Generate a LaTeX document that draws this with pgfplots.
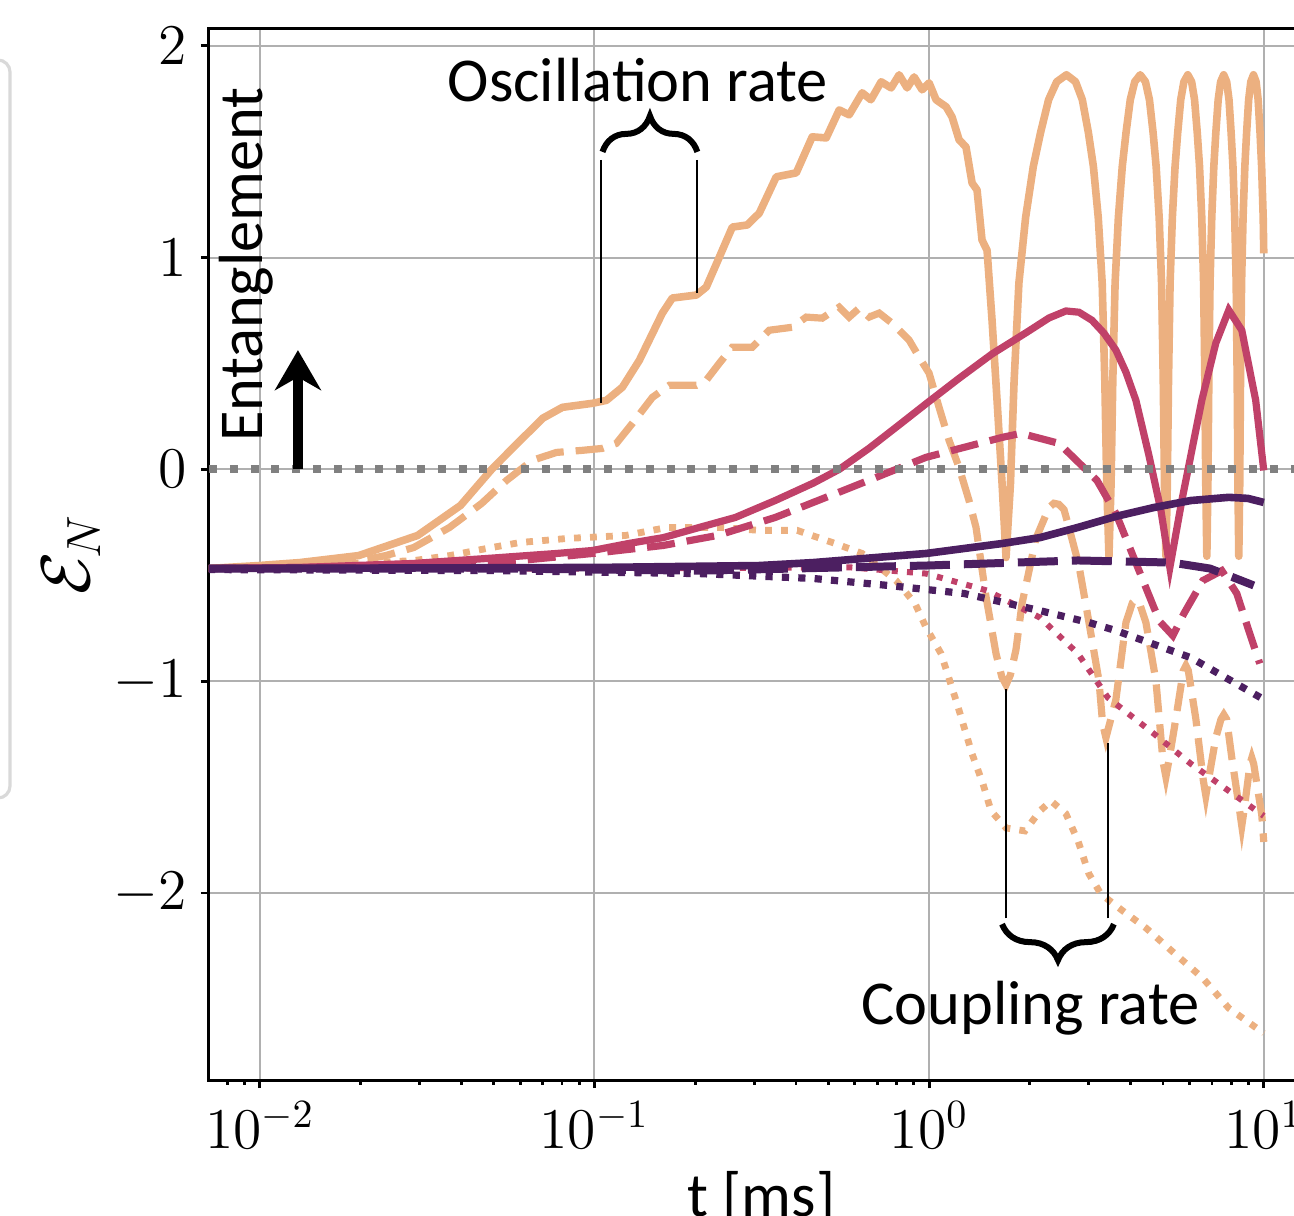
\documentclass[border=0pt]{standalone}
\usepackage{fontspec}
\newfontfamily\carlito{Carlito}
\usepackage{pgfplots}
\pgfplotsset{compat=1.18}
\usetikzlibrary{decorations.pathreplacing,arrows.meta}

\definecolor{corange}{RGB}{236,176,128}
\definecolor{cmag}{RGB}{192,65,105}
\definecolor{cpurp}{RGB}{76,31,97}
\definecolor{czero}{RGB}{128,128,128}
\definecolor{cgrid}{RGB}{176,176,176}

\begin{document}
\begin{tikzpicture}
\begin{axis}[
  scale only axis, width=276.25pt, height=262.9pt,
  xmode=log, xmin=0.00705, xmax=14.13, ymin=-2.883, ymax=2.082,
  ytick={-2,-1,0,1,2},
  tick pos=left, tick align=outside,
  major tick length=2pt, minor tick length=1.2pt,
  tick style={black, line width=0.7pt},
  axis line style={line width=0.75pt},
  grid=major, major grid style={color=cgrid, line width=0.5pt},
  tick label style={font=\fontsize{14.5}{17}\selectfont},
  xlabel={t [ms]},
  xlabel style={font=\carlito\fontsize{15.6}{18}\selectfont, at={(axis description cs:0.5,-0.1293)}, anchor=base},
  ylabel={$\mathcal{E}_N$},
  ylabel style={font=\fontsize{17}{20}\selectfont, at={(axis description cs:-0.1077,0.5)}, anchor=base},
]
% orange
\addplot[corange, line width=1.9pt, line join=round] coordinates {
(0.00700,-0.468)(0.00993,-0.454)(0.01316,-0.440)(0.01975,-0.407)(0.02962,-0.312)(0.03981,-0.170)(0.04960,0.005)(0.06012,0.137)(0.06997,0.241)(0.08023,0.293)(0.09863,0.312)(0.1086,0.326)(0.1212,0.388)(0.1362,0.515)(0.1596,0.738)(0.1709,0.809)(0.2016,0.823)(0.2159,0.861)(0.2361,1.002)(0.2582,1.144)(0.2862,1.154)(0.3109,1.210)(0.3493,1.381)(0.4009,1.400)(0.4474,1.570)(0.4927,1.565)(0.5387,1.697)(0.5770,1.674)(0.6310,1.778)(0.6700,1.745)(0.7191,1.830)(0.7703,1.801)(0.8137,1.863)(0.8597,1.801)(0.9020,1.853)(0.9530,1.792)(1.000,1.825)(1.049,1.745)(1.124,1.712)(1.171,1.664)(1.229,1.556)(1.289,1.522)(1.344,1.352)(1.391,1.319)(1.439,1.083)(1.490,1.035)(1.542,0.704)(1.596,0.326)(1.652,-0.066)(1.698,-0.416)
(1.750,-0.07)(1.794,0.41)(1.855,0.88)(1.943,1.19)(2.048,1.43)(2.153,1.59)(2.275,1.745)(2.406,1.83)(2.573,1.863)(2.739,1.83)(2.870,1.745)(2.992,1.59)(3.097,1.43)(3.202,1.19)(3.290,0.88)(3.351,0.41)(3.395,-0.07)(3.447,-0.41)
(3.497,-0.07)(3.538,0.41)(3.596,0.88)(3.678,1.19)(3.778,1.43)(3.877,1.59)(3.992,1.745)(4.116,1.83)(4.274,1.863)(4.431,1.83)(4.554,1.745)(4.670,1.59)(4.769,1.43)(4.869,1.19)(4.951,0.88)(5.009,0.41)(5.050,-0.07)(5.100,-0.41)
(5.150,-0.07)(5.191,0.41)(5.249,0.88)(5.332,1.19)(5.432,1.43)(5.532,1.59)(5.648,1.745)(5.772,1.83)(5.930,1.863)(6.088,1.83)(6.212,1.745)(6.328,1.59)(6.428,1.43)(6.528,1.19)(6.611,0.88)(6.669,0.41)(6.710,-0.07)(6.760,-0.41)
(6.810,-0.07)(6.851,0.41)(6.910,0.88)(6.993,1.19)(7.092,1.43)(7.192,1.59)(7.308,1.745)(7.433,1.83)(7.591,1.863)(7.749,1.83)(7.874,1.745)(7.990,1.59)(8.090,1.43)(8.189,1.19)(8.272,0.88)(8.331,0.41)(8.372,-0.07)(8.422,-0.41)
(8.476,-0.07)(8.520,0.41)(8.583,0.88)(8.673,1.19)(8.780,1.43)(8.887,1.59)(9.013,1.745)(9.147,1.83)(9.317,1.863)(9.487,1.83)(9.621,1.745)(9.747,1.59)(9.854,1.43)(9.961,1.19)(10.0,1.02)
};
\addplot[corange, line width=1.8pt, dash pattern=on 7pt off 3pt] coordinates {
(0.00700,-0.468)(0.01316,-0.454)(0.0200,-0.430)(0.02377,-0.407)(0.02883,-0.369)(0.03691,-0.274)(0.04600,-0.161)(0.05461,-0.052)(0.06531,0.043)(0.07701,0.080)(0.09209,0.090)(0.1056,0.099)(0.1163,0.123)(0.1298,0.217)(0.1490,0.340)(0.1674,0.397)(0.2016,0.397)(0.2159,0.421)(0.2361,0.501)(0.2582,0.577)(0.2962,0.577)(0.3330,0.657)(0.3899,0.671)(0.4294,0.719)(0.4793,0.714)(0.5387,0.766)(0.5770,0.719)(0.6180,0.761)(0.6622,0.719)(0.7092,0.738)(0.7755,0.690)(0.8137,0.657)(0.8716,0.610)(0.9336,0.530)(1.000,0.454)(1.071,0.293)(1.147,0.137)(1.229,0.009)(1.316,-0.147)(1.381,-0.274)(1.479,-0.600)(1.585,-0.870)(1.650,-0.98)(1.698,-1.017)(1.750,-0.97)(1.818,-0.851)(1.895,-0.634)(2.086,-0.326)(2.282,-0.180)(2.360,-0.160)(2.443,-0.165)(2.530,-0.190)(2.617,-0.274)(2.804,-0.454)(3.004,-0.723)(3.218,-0.998)(3.300,-1.20)(3.376,-1.267)(3.450,-1.21)(3.616,-1.087)(3.874,-0.723)(4.050,-0.630)(4.149,-0.615)(4.250,-0.630)(4.445,-0.723)(4.762,-0.998)(5.000,-1.38)(5.100,-1.452)(5.200,-1.38)(5.462,-1.177)(5.750,-0.950)(5.851,-0.927)(5.950,-0.950)(6.266,-1.177)(6.600,-1.47)(6.713,-1.541)(6.830,-1.47)(7.190,-1.267)(7.450,-1.18)(7.597,-1.158)(7.750,-1.18)(8.027,-1.362)(8.450,-1.60)(8.597,-1.683)(8.750,-1.60)(9.100,-1.39)(9.210,-1.362)(9.330,-1.39)(9.863,-1.631)(10.0,-1.759)
};
\addplot[corange, line width=1.7pt, dash pattern=on 1.7pt off 2.3pt] coordinates {
(0.00700,-0.468)(0.01316,-0.459)(0.02904,-0.430)(0.03691,-0.407)(0.04926,-0.369)(0.06012,-0.345)(0.08308,-0.326)(0.1238,-0.312)(0.1652,-0.274)(0.2377,-0.274)(0.3109,-0.288)(0.4036,-0.288)(0.5241,-0.350)(0.6310,-0.397)(0.7970,-0.525)(0.9083,-0.634)(0.9796,-0.747)(1.086,-0.870)(1.212,-1.106)(1.344,-1.343)(1.449,-1.485)(1.531,-1.612)(1.698,-1.693)(1.934,-1.707)(2.145,-1.612)(2.313,-1.565)(2.564,-1.626)(2.785,-1.754)(3.004,-1.910)(3.262,-2.005)(3.795,-2.085)(4.445,-2.165)(5.313,-2.274)(6.576,-2.402)(7.863,-2.544)(10.0,-2.662)
};
% magenta
\addplot[cmag, line width=1.8pt] coordinates {
(0.00700,-0.468)(0.01316,-0.463)(0.02883,-0.444)(0.04727,-0.421)(0.07701,-0.397)(0.09863,-0.383)(0.1263,-0.350)(0.1607,-0.322)(0.2058,-0.274)(0.2636,-0.227)(0.3469,-0.147)(0.4505,-0.065)(0.5387,0.000)(0.6622,0.100)(0.8137,0.210)(0.9796,0.310)(1.229,0.430)(1.542,0.545)(1.948,0.645)(2.282,0.715)(2.564,0.748)(2.804,0.742)(3.067,0.704)(3.331,0.643)(3.616,0.563)(3.874,0.459)(4.149,0.326)(4.538,0.066)(4.928,-0.194)(5.241,-0.463)(5.692,-0.147)(6.530,0.326)(7.190,0.596)(7.863,0.752)(8.597,0.657)(9.460,0.326)(10.0,-0.005)
};
\addplot[cmag, line width=1.8pt, dash pattern=on 7pt off 3pt] coordinates {
(0.00700,-0.468)(0.01316,-0.463)(0.03691,-0.454)(0.06012,-0.430)(0.09863,-0.397)(0.1607,-0.359)(0.2329,-0.312)(0.3469,-0.227)(0.5851,-0.085)(0.9796,0.057)(1.652,0.151)(1.882,0.170)(2.443,0.123)(3.174,-0.052)(3.616,-0.208)(4.121,-0.430)(4.696,-0.652)(4.900,-0.720)(5.350,-0.785)(5.771,-0.681)(6.576,-0.525)(7.492,-0.478)(8.307,-0.586)(8.960,-0.747)(9.729,-0.917)
};
\addplot[cmag, line width=1.5pt, dash pattern=on 1.5pt off 2.3pt] coordinates {
(0.00700,-0.468)(0.1035,-0.468)(0.5851,-0.463)(0.9796,-0.492)(1.490,-0.572)(2.145,-0.700)(2.785,-0.870)(3.423,-1.078)(4.696,-1.248)(6.056,-1.390)(7.863,-1.518)(10.0,-1.636)
};
% purple
\addplot[cpurp, line width=1.9pt] coordinates {
(0.00700,-0.468)(0.1035,-0.463)(0.3109,-0.454)(0.4505,-0.440)(0.9796,-0.397)(1.652,-0.350)(2.145,-0.322)(2.785,-0.274)(3.616,-0.222)(4.696,-0.180)(6.056,-0.147)(7.863,-0.132)(8.960,-0.137)(10.0,-0.156)
};
\addplot[cpurp, line width=2pt, dash pattern=on 10pt off 3.5pt] coordinates {
(0.00700,-0.468)(0.0520,-0.468)(0.2058,-0.478)(0.9796,-0.454)(2.785,-0.430)(5.313,-0.440)(6.900,-0.468)(8.137,-0.511)(9.335,-0.548)
};
\addplot[cpurp, line width=1.8pt, dash pattern=on 1.8pt off 2.3pt] coordinates {
(0.00700,-0.473)(0.0520,-0.478)(0.2058,-0.492)(0.4505,-0.515)(0.7545,-0.548)(1.272,-0.586)(2.145,-0.667)(3.004,-0.723)(3.616,-0.761)(6.056,-0.889)(9.795,-1.078)
};
% zero line
\addplot[czero, line width=2pt, dash pattern=on 2pt off 3.2pt] coordinates {(0.00705,0) (14.13,0)};

% annotations
\draw[line width=2.5pt, -{Stealth[length=10pt,width=11.5pt]}] (axis cs:0.013,0) -- (axis cs:0.013,0.563);
\node[font=\carlito\fontsize{15.6}{18}\selectfont, rotate=90, anchor=base west, inner sep=0pt] at (axis cs:0.0102,0.128) {Entanglement};

\node[font=\carlito\fontsize{15.6}{18}\selectfont, anchor=base, inner sep=0pt] at (axis cs:0.1348,1.735) {Oscillation rate};
\draw[decorate, decoration={brace, amplitude=9pt}, line width=1.5pt] (axis cs:0.1057,1.499) -- (axis cs:0.203,1.499);
\draw[line width=0.6pt] (axis cs:0.1046,1.461) -- (axis cs:0.1046,0.312);
\draw[line width=0.6pt] (axis cs:0.2023,1.461) -- (axis cs:0.2023,0.832);

\node[font=\carlito\fontsize{15.6}{18}\selectfont, anchor=base, inner sep=0pt] at (axis cs:2.01,-2.619) {Coupling rate};
\draw[decorate, decoration={brace, amplitude=9pt}, line width=1.5pt] (axis cs:3.566,-2.147) -- (axis cs:1.652,-2.147);
\draw[line width=0.6pt] (axis cs:1.698,-2.12) -- (axis cs:1.698,-1.035);
\draw[line width=0.6pt] (axis cs:3.42,-2.12) -- (axis cs:3.42,-1.29);
\end{axis}
% remnant of legend frame at the left edge
\draw[color={rgb,255:red,217;green,217;blue,217}, line width=0.8pt, rounded corners=3pt] (-120pt,70.5pt) rectangle (-49.75pt,255pt);
\pgfresetboundingbox
\useasboundingbox (-52.25pt,-33.75pt) rectangle (271.25pt,270pt);
\end{tikzpicture}
\end{document}
